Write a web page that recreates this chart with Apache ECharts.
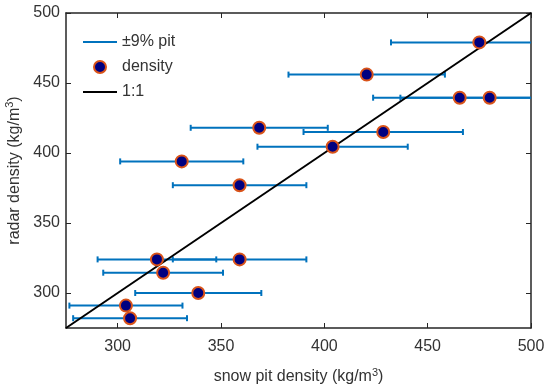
<!DOCTYPE html>
<html>
<head>
<meta charset="utf-8">
<script src="https://cdn.jsdelivr.net/npm/echarts@6/dist/echarts.min.js"></script>
<style>
  html, body { margin: 0; padding: 0; background: #fff; }
  #chart { width: 545px; height: 386px; }
</style>
</head>
<body>
<div id="chart"></div>
<script>
// snow pit density (x) vs radar density (y), kg/m^3
const pitDensity = [475, 420.5, 465.5, 480, 428.5, 368.5, 404, 331, 359, 319, 359, 322, 339, 304, 306];
const radarDensity = [479, 456, 439.5, 439.5, 415, 418, 404.5, 394, 377, 324, 324, 314.5, 300, 291, 282];
const errPct = 0.09;
const oneToOne = [[275, 275], [500, 500]];
const axisTicks = [300, 350, 400, 450, 500];

const blue = '#0072BD';
const axisColor = '#262626';
const font = 'Liberation Sans, Arial, sans-serif';

const chart = echarts.init(document.getElementById('chart'), null, { renderer: 'canvas' });

const points = pitDensity.map((x, i) => [x, radarDensity[i]]);
const errData = pitDensity.map((x, i) => [x, radarDensity[i], x * (1 - errPct), x * (1 + errPct)]);

function renderErr(params, api) {
  const cs = params.coordSys;
  const y = api.value(1);
  const a = api.coord([api.value(2), y]);
  const b = api.coord([api.value(3), y]);
  const left = cs.x, right = cs.x + cs.width;
  const x1 = Math.max(a[0], left), x2 = Math.min(b[0], right);
  const style = { stroke: blue, lineWidth: 2 };
  const kids = [{ type: 'line', shape: { x1, y1: a[1], x2, y2: a[1] }, style }];
  if (a[0] >= left) kids.push({ type: 'line', shape: { x1: a[0], y1: a[1] - 3, x2: a[0], y2: a[1] + 3 }, style });
  if (b[0] <= right) kids.push({ type: 'line', shape: { x1: b[0], y1: b[1] - 3, x2: b[0], y2: b[1] + 3 }, style });
  return { type: 'group', children: kids };
}

const axisCommon = {
  type: 'value',
  min: 275,
  max: 500,
  interval: 25,
  axisLine: { show: true, lineStyle: { color: axisColor, width: 1.5 } },
  axisTick: { show: true, inside: true, length: 5, lineStyle: { color: axisColor },
    customValues: axisTicks },
  axisLabel: { color: '#333', fontSize: 16, fontFamily: font, customValues: axisTicks },
  splitLine: { show: false }
};

const unitRich = { sup: { fontSize: 11, verticalAlign: 'top', padding: [0, 0, 9, 0], fontFamily: font, color: '#333' } };
const nameRich = Object.assign({ a: { fontSize: 16, fontFamily: font, color: '#333' } }, unitRich);

chart.setOption({
  backgroundColor: '#fff',
  animation: false,
  grid: { left: 66, right: 14, top: 13, bottom: 58, outerBoundsMode: 'none', containLabel: false },
  legend: {
    orient: 'vertical',
    left: 83,
    top: 34,
    padding: 0,
    itemWidth: 34,
    itemHeight: 12,
    itemGap: 9,
    textStyle: { color: '#333', fontSize: 16, fontFamily: font },
    data: [
      { name: '±9% pit', icon: 'path://M0,0H34V2H0Z', itemStyle: { color: blue } },
      { name: 'density', icon: 'circle', itemStyle: { color: '#000080', borderColor: '#D95319', borderWidth: 2 } },
      { name: '1:1', icon: 'path://M0,0H34V2H0Z', itemStyle: { color: '#000' } }
    ]
  },
  xAxis: [
    Object.assign({}, axisCommon, {
      position: 'bottom',
      axisLabel: Object.assign({}, axisCommon.axisLabel, { margin: 11 }),
      name: '{a|snow pit density (kg/m}{sup|3}{a|)}',
      nameLocation: 'middle',
      nameGap: 39,
      nameTextStyle: { rich: nameRich }
    }),
    Object.assign({}, axisCommon, { position: 'top', axisLabel: { show: false } })
  ],
  yAxis: [
    Object.assign({}, axisCommon, {
      position: 'left',
      axisLabel: Object.assign({}, axisCommon.axisLabel, { margin: 6 }),
      name: '{a|radar density (kg/m}{sup|3}{a|)}',
      nameLocation: 'middle',
      nameGap: 32,
      nameTextStyle: { rich: nameRich }
    }),
    Object.assign({}, axisCommon, { position: 'right', axisLabel: { show: false } })
  ],
  series: [
    {
      name: '±9% pit',
      type: 'custom',
      renderItem: renderErr,
      data: errData,
      encode: { x: 0, y: 1 },
      z: 2
    },
    {
      name: '1:1',
      type: 'line',
      data: oneToOne,
      symbol: 'none',
      lineStyle: { color: '#000', width: 2 },
      z: 3
    },
    {
      name: 'density',
      type: 'scatter',
      data: points,
      symbolSize: 12,
      itemStyle: { color: '#000080', borderColor: '#D95319', borderWidth: 2, opacity: 1 },
      z: 4
    }
  ]
});
</script>
</body>
</html>
